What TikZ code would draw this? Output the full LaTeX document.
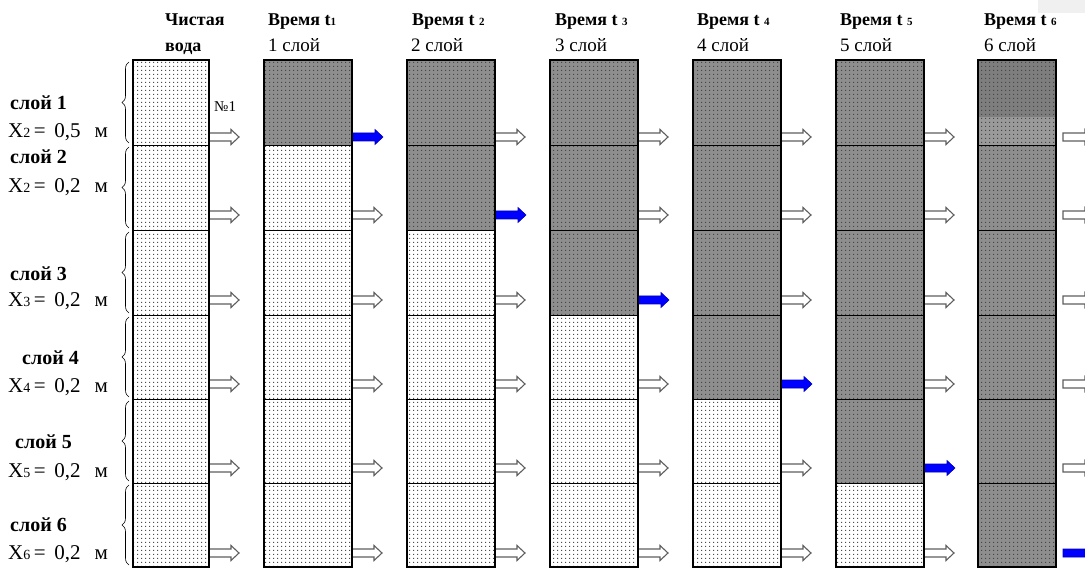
\documentclass[tikz,border=0pt]{standalone}
\usepackage{fontspec}
\setmainfont{Liberation Serif}
\usetikzlibrary{patterns.meta,decorations.pathreplacing,calc}
\definecolor{darkfill}{HTML}{8E8E8E}
\definecolor{darkfilltop}{HTML}{7E7E7E}
\definecolor{darkfilllow}{HTML}{9A9A9A}
\definecolor{arrowline}{HTML}{5E5E5E}
\tikzdeclarepattern{name=sand, type=uncolored,
  bounding box={(0pt,0pt) and (4pt,4pt)}, tile size={(4pt,4pt)},
  code={\fill (1.4pt,1.4pt) rectangle (2.6pt,2.6pt);}}
\tikzset{
  cellbase/.style={draw=black, line width=0.7pt, inner sep=0pt, outer sep=0pt, anchor=north west, pattern={sand}},
  lightcell/.style={cellbase, pattern color=black!70, preaction={fill=white}},
  darkcell/.style={cellbase, pattern color=black!72, preaction={fill=darkfill}},
  lowcell/.style={cellbase, pattern color=black!72, preaction={fill=darkfilllow}},
  colborder/.style={draw=black, line width=1.8pt},
  hdr/.style={font=\fontsize{18}{18}\selectfont\bfseries, anchor=base west, inner sep=0pt},
  sub/.style={font=\fontsize{19}{19}\selectfont, anchor=base west, inner sep=0pt},
  lbl/.style={font=\fontsize{20}{20}\selectfont\bfseries, anchor=base west, inner sep=0pt},
  xlbl/.style={font=\fontsize{21}{21}\selectfont, anchor=base west, inner sep=0pt},
  rowbrace/.style={draw=black, line width=0.6pt, decorate, decoration={brace, amplitude=7pt}},
  harrow/.pic={\draw[draw=arrowline, fill=white, line width=1.1pt] (0,-4) -- (22,-4) -- (22,-7.5) -- (30,0) -- (22,7.5) -- (22,4) -- (0,4) -- cycle;},
  barrow/.pic={\draw[draw=blue!75!black, fill=blue, line width=0.6pt] (0,-4) -- (23,-4) -- (23,-7.5) -- (31,0) -- (23,7.5) -- (23,4) -- (0,4) -- cycle;}
}
\newcommand{\sm}[1]{{\fontsize{11}{11}\selectfont #1}}
\newcommand{\xsm}[1]{{\fontsize{14}{14}\selectfont #1}}
\begin{document}
\begin{tikzpicture}[x=1pt,y=-1pt]
\useasboundingbox (0,0) rectangle (1085,572);
\clip (0,0) rectangle (1085,572);
\fill[white] (0,0) rectangle (1085,572);
\fill[black!6] (1038,0) rectangle (1085,13);
% cells
\foreach \c/\x/\w in {0/133/76,1/264/88,2/407/88,3/550/88,4/693/88,5/836/88,6/978/78}{
  \foreach \r/\t/\h in {1/60/85,2/145/85,3/230/85,4/315/84,5/399/84,6/483/84}{
    \ifnum\r>\c \tikzset{curcell/.style={lightcell}}\else\tikzset{curcell/.style={darkcell}}\fi
    \ifnum\c=6 \ifnum\r=1 \tikzset{curcell/.style={lowcell}}\fi\fi
    \node[curcell, minimum width=\w pt, minimum height=\h pt] (c\c r\r) at (\x,\t) {};
  }
}
% darker top part of column 6, row 1
\fill[darkfilltop] (c6r1.north west) rectangle ($(c6r1.south east)+(0,-28)$);
\fill[pattern={sand}, pattern color=black!72] (c6r1.north west) rectangle ($(c6r1.south east)+(0,-28)$);
% arrows
\foreach \c in {0,...,5}{
  \foreach \r/\d in {1/8,2/15,3/15,4/15,5/15,6/14}{
    \ifnum\r=\c
      \pic at ([yshift=\d pt]c\c r\r.south east) {barrow};
    \else
      \pic at ([yshift=\d pt]c\c r\r.south east) {harrow};
    \fi
  }
}
\foreach \r/\d in {1/8,2/15,3/15,4/15,5/15}{
  \pic at ([xshift=7pt,yshift=\d pt]c6r\r.south east) {harrow};
}
\pic at ([xshift=7pt,yshift=14pt]c6r6.south east) {barrow};
% column borders
\foreach \c in {0,...,6}{
  \draw[colborder] (c\c r1.north west) rectangle (c\c r6.south east);
}
% headers
\node[hdr] (h0) at (165,26) {Чистая};
\node[hdr] (h0b) at (165,52) {вода};
\node[hdr] (h1) at (268,26) {Время t\sm{1}};
\node[sub] (s1) at (268,52) {1 слой};
\node[hdr] (h2) at (412,26) {Время t \sm{2}};
\node[sub] (s2) at (411,52) {2 слой};
\node[hdr] (h3) at (555,26) {Время t \sm{3}};
\node[sub] (s3) at (555,52) {3 слой};
\node[hdr] (h4) at (697,26) {Время t \sm{4}};
\node[sub] (s4) at (697,52) {4 слой};
\node[hdr] (h5) at (840,26) {Время t \sm{5}};
\node[sub] (s5) at (840,52) {5 слой};
\node[hdr] (h6) at (984,26) {Время t \sm{6}};
\node[sub] (s6) at (984,52) {6 слой};
\node[font=\fontsize{15}{15}\selectfont, anchor=base west, inner sep=0pt] (n1) at (214,112) {№1};
% braces
\foreach \r in {1,...,6}{
  \draw[rowbrace] ($(c0r\r.south west)+(-4,-2)$) -- ($(c0r\r.north west)+(-4,2)$);
}
% left labels
\node[lbl] (l1) at (10,110) {слой 1};
\node[xlbl] (x1) at (8,138) {X\xsm{2}\,=\, 0,5 \ \,м};
\node[lbl] (l2) at (10,164) {слой 2};
\node[xlbl] (x2) at (8,193) {X\xsm{2}\,=\, 0,2 \ \,м};
\node[lbl] (l3) at (10,280) {слой 3};
\node[xlbl] (x3) at (8,307) {X\xsm{3}\,=\, 0,2 \ \,м};
\node[lbl] (l4) at (22,364) {слой 4};
\node[xlbl] (x4) at (8,392) {X\xsm{4}\,=\, 0,2 \ \,м};
\node[lbl] (l5) at (15,448) {слой 5};
\node[xlbl] (x5) at (8,477) {X\xsm{5}\,=\, 0,2 \ \,м};
\node[lbl] (l6) at (10,531) {слой 6};
\node[xlbl] (x6) at (8,559) {X\xsm{6}\,=\, 0,2 \ \,м};
\end{tikzpicture}
\end{document}
